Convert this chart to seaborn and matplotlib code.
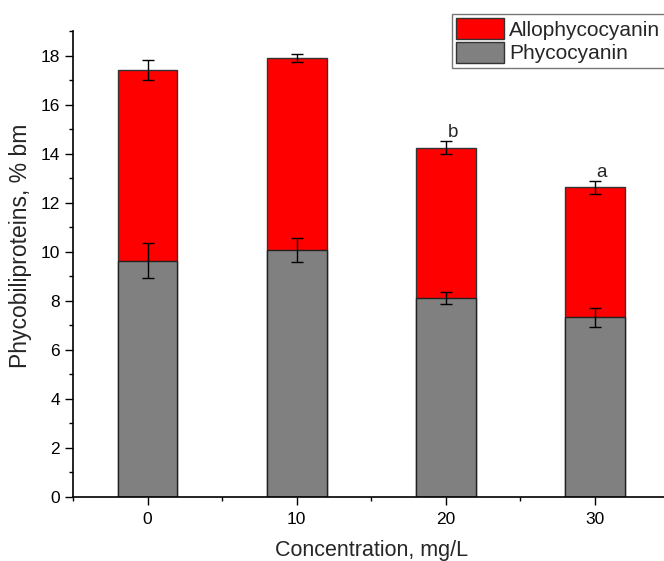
import matplotlib
matplotlib.use("Agg")
import matplotlib.pyplot as plt
import seaborn as sns
import pandas as pd
import numpy as np
from matplotlib.patches import Patch
from matplotlib.ticker import MultipleLocator

concentration = [0, 10, 20, 30]
phycocyanin = [9.64, 10.07, 8.10, 7.33]
phycocyanin_err = [0.73, 0.48, 0.25, 0.39]
allophycocyanin = [7.76, 7.83, 6.15, 5.29]
total_err = [0.41, 0.17, 0.28, 0.28]
letters = ["", "", "b", "a"]

sns.set_style("ticks")
plt.rcParams['font.family'] = ['Liberation Sans', 'DejaVu Sans']

total = [p + a for p, a in zip(phycocyanin, allophycocyanin)]
df = pd.DataFrame({"conc": concentration, "pc": phycocyanin, "total": total})

fig = plt.figure(figsize=(6.64, 5.61), dpi=100)
ax = fig.add_axes([73/664, 64/561, (669.5-73)/664, (497-31)/561])

sns.barplot(data=df, x="conc", y="total", native_scale=True, width=0.4,
            color="#ff0000", edgecolor="#333333", linewidth=1.0, saturation=1, ax=ax)
sns.barplot(data=df, x="conc", y="pc", native_scale=True, width=0.4,
            color="#808080", edgecolor="#222222", linewidth=1.0, saturation=1, ax=ax)

ax.errorbar(concentration, total, yerr=total_err, fmt="none", ecolor="black",
            elinewidth=1.0, capsize=4.5, capthick=1.0, zorder=5)
ax.errorbar(concentration, phycocyanin, yerr=phycocyanin_err, fmt="none", ecolor="black",
            elinewidth=1.0, capsize=4.5, capthick=1.0, zorder=5)

for x, t, e, l in zip(concentration, total, total_err, letters):
    if l:
        ax.text(x + 0.45, t + e + 0.32, l, ha="center", va="center", fontsize=13.5)

ax.set_xlim(-5, 35)
ax.set_ylim(0, 19)
ax.set_xticks(concentration)
ax.set_xticklabels([str(c) for c in concentration])
ax.set_xticks([-5, 5, 15, 25, 35], minor=True)
ax.set_yticks(np.arange(0, 19, 2))
ax.yaxis.set_minor_locator(MultipleLocator(1))
ax.tick_params(axis="both", which="major", length=6, width=1.0, labelsize=12.5, color="black", labelcolor="black")
ax.tick_params(axis="x", which="major", pad=5)
ax.tick_params(axis="both", which="minor", length=3.2, width=1.0, color="black")
for s in ["left", "bottom"]:
    ax.spines[s].set_linewidth(1.2)
    ax.spines[s].set_color("black")
sns.despine(ax=ax)

ax.set_xlabel("Concentration, mg/L", fontsize=15.5, labelpad=9)
ax.set_ylabel("Phycobiliproteins, % bm", fontsize=16.5)
ax.yaxis.set_label_coords(-0.068, 0.54)

handles = [Patch(facecolor="#ff0000", edgecolor="#333333", linewidth=1.0, label="Allophycocyanin"),
           Patch(facecolor="#808080", edgecolor="#333333", linewidth=1.0, label="Phycocyanin")]
leg = fig.legend(handles=handles, loc="upper left", bbox_to_anchor=(452/664, 1 - 14/561),
                 fontsize=15, frameon=True, fancybox=False, edgecolor="#555555",
                 handlelength=2.3, handleheight=1.15, labelspacing=0.12,
                 borderpad=0.2, handletextpad=0.25, borderaxespad=0)
leg.get_frame().set_linewidth(1.0)

fig.savefig("out.png", dpi=100)
